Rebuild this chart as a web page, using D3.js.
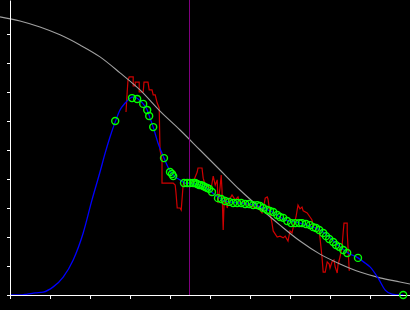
<!DOCTYPE html>
<html>
<head>
<meta charset="utf-8">
<script src="https://cdn.jsdelivr.net/npm/d3@7"></script>
<style>
  html, body { margin: 0; padding: 0; background: #000; }
  svg { display: block; }
</style>
</head>
<body>
<div id="chart"></div>
<script>
// Values (x and y in axis units)
var grayX = [-0.25, 0.25, 0.75, 1.25, 1.75, 2.25, 2.75, 3.25, 3.75, 4.25, 4.75, 5.25, 5.75, 6.25, 6.75, 7.25, 7.75, 8.25, 8.75, 9.25, 9.75, 10.0];
var grayY = [9.59, 9.45, 9.24, 8.97, 8.62, 8.21, 7.66, 7.07, 6.34, 5.69, 5.00, 4.31, 3.62, 3.00, 2.41, 1.86, 1.41, 1.07, 0.79, 0.59, 0.45, 0.38];

var blueX = [0, 0.25, 0.43, 0.63, 0.83, 1.08, 1.33, 1.58, 1.83, 2.05, 2.25, 2.38, 2.5, 2.63, 2.75, 2.88, 3.0, 3.1, 3.2, 3.33, 3.43, 3.5, 3.58, 3.7, 3.85, 4.0, 4.13, 4.25, 4.38, 4.63, 4.88, 5.13, 5.38, 5.75, 6.13, 6.5, 6.88, 7.25, 7.58, 7.75, 8.0, 8.25, 8.45, 8.7, 8.88, 9.0, 9.2, 9.38, 9.55, 9.75, 9.83];
var blueY = [0, 0, 0.03, 0.07, 0.10, 0.28, 0.62, 1.21, 2.14, 3.28, 4.24, 4.90, 5.45, 5.97, 6.38, 6.62, 6.79, 6.83, 6.76, 6.59, 6.38, 6.10, 5.79, 5.24, 4.72, 4.28, 4.07, 3.97, 3.86, 3.83, 3.72, 3.45, 3.24, 3.17, 3.10, 2.90, 2.59, 2.48, 2.34, 2.24, 1.97, 1.66, 1.45, 1.28, 1.10, 0.97, 0.59, 0.17, 0.03, 0, 0];

var redX = [2.9, 2.93, 2.95, 2.98, 3.08, 3.08, 3.13, 3.13, 3.23, 3.23, 3.33, 3.35, 3.45, 3.48, 3.55, 3.58, 3.63, 3.68, 3.73, 3.75, 3.8, 3.8, 4.08, 4.13, 4.15, 4.18, 4.25, 4.28, 4.3, 4.33, 4.45, 4.58, 4.63, 4.68, 4.7, 4.8, 4.83, 4.88, 4.95, 5.03, 5.08, 5.13, 5.18, 5.2, 5.25, 5.28, 5.3, 5.33, 5.35, 5.38, 5.43, 5.48, 5.55, 5.63, 5.7, 5.75, 5.85, 5.95, 6.08, 6.2, 6.3, 6.35, 6.38, 6.43, 6.45, 6.5, 6.55, 6.58, 6.68, 6.75, 6.83, 6.88, 6.95, 7.0, 7.05, 7.1, 7.15, 7.2, 7.25, 7.3, 7.33, 7.43, 7.5, 7.55, 7.58, 7.68, 7.73, 7.75, 7.8, 7.83, 7.88, 7.93, 7.98, 8.0, 8.05, 8.1, 8.13, 8.18, 8.2, 8.25, 8.3, 8.33, 8.35, 8.43, 8.43, 8.45, 8.48, 8.5];
var redY = [6.31, 7.00, 7.41, 7.52, 7.52, 7.21, 7.21, 7.34, 7.34, 7.00, 7.00, 7.34, 7.34, 7.07, 7.07, 6.90, 6.90, 6.62, 6.45, 5.00, 4.66, 3.86, 3.86, 3.79, 3.52, 3.00, 3.00, 2.93, 3.28, 3.83, 3.86, 3.90, 4.07, 4.24, 4.38, 4.38, 4.03, 3.79, 3.72, 3.69, 4.10, 3.79, 3.97, 3.17, 3.69, 4.14, 3.62, 2.24, 3.10, 3.38, 3.00, 3.28, 3.45, 3.28, 3.38, 3.17, 3.21, 3.10, 3.03, 3.03, 2.83, 3.10, 3.34, 3.38, 3.31, 2.83, 2.48, 2.21, 2.00, 2.03, 1.97, 2.03, 1.86, 2.21, 2.14, 2.45, 2.69, 3.10, 2.97, 3.03, 2.90, 2.83, 2.69, 2.59, 2.34, 2.31, 2.21, 1.97, 1.31, 0.79, 0.79, 1.14, 1.07, 0.93, 1.14, 1.21, 0.97, 0.76, 1.03, 1.31, 1.66, 2.17, 2.48, 2.48, 2.17, 1.66, 0.86, 0.86];

var pointX = [2.63, 3.05, 3.18, 3.33, 3.43, 3.48, 3.58, 3.85, 4.0, 4.05, 4.08, 4.35, 4.43, 4.5, 4.58, 4.63, 4.68, 4.73, 4.78, 4.83, 4.88, 4.93, 4.98, 5.05, 5.2, 5.28, 5.38, 5.48, 5.58, 5.68, 5.78, 5.88, 5.98, 6.08, 6.18, 6.25, 6.33, 6.43, 6.5, 6.58, 6.68, 6.75, 6.83, 6.93, 7.03, 7.13, 7.23, 7.3, 7.4, 7.5, 7.58, 7.65, 7.73, 7.83, 7.9, 7.98, 8.08, 8.15, 8.23, 8.33, 8.43, 8.7, 9.83];
var pointY = [6.00, 6.79, 6.76, 6.59, 6.38, 6.17, 5.79, 4.72, 4.24, 4.17, 4.10, 3.86, 3.86, 3.86, 3.86, 3.86, 3.83, 3.79, 3.79, 3.76, 3.72, 3.69, 3.66, 3.55, 3.34, 3.31, 3.24, 3.21, 3.17, 3.17, 3.17, 3.14, 3.14, 3.10, 3.10, 3.07, 3.00, 2.93, 2.90, 2.86, 2.76, 2.69, 2.66, 2.55, 2.48, 2.48, 2.48, 2.48, 2.45, 2.41, 2.34, 2.31, 2.24, 2.14, 2.03, 1.93, 1.83, 1.72, 1.66, 1.55, 1.45, 1.28, 0];

var markerX = 4.475;
var xTicks = [0, 1, 2, 3, 4, 5, 6, 7, 8, 9];
var yTicks = [0, 1, 2, 3, 4, 5, 6, 7, 8, 9];

var width = 410, height = 310;

var x = d3.scaleLinear().domain([0, 10]).range([10, 410]);
var y = d3.scaleLinear().domain([0, 295 / 29]).range([295, 0]);

var svg = d3.select("#chart").append("svg")
    .attr("width", width)
    .attr("height", height)
    .style("background", "#000");

function pairs(xs, ys) {
    return xs.map(function(v, i) { return [v, ys[i]]; });
}

var line = d3.line()
    .x(function(d) { return x(d[0]); })
    .y(function(d) { return y(d[1]); });

// noisy red series
svg.append("path")
    .attr("d", line(pairs(redX, redY)))
    .attr("fill", "none")
    .attr("stroke", "#d00000")
    .attr("stroke-width", 1.2);

// smooth gray reference curve
svg.append("path")
    .attr("d", line.curve(d3.curveMonotoneX)(pairs(grayX, grayY)))
    .attr("fill", "none")
    .attr("stroke", "#a0a0a0")
    .attr("stroke-width", 1.1);

// blue density curve
svg.append("path")
    .attr("d", line.curve(d3.curveMonotoneX)(pairs(blueX, blueY)))
    .attr("fill", "none")
    .attr("stroke", "#0000ff")
    .attr("stroke-width", 1.3);

// vertical marker
svg.append("line")
    .attr("x1", Math.round(x(markerX)) + 0.5)
    .attr("x2", Math.round(x(markerX)) + 0.5)
    .attr("y1", 0)
    .attr("y2", y(0))
    .attr("stroke", "#800080")
    .attr("stroke-width", 1);

// axes
svg.append("g")
    .attr("transform", "translate(" + x(0) + ",0)")
    .call(d3.axisLeft(y).tickValues(yTicks).tickSize(3).tickSizeOuter(0).tickFormat(""));

svg.append("g")
    .attr("transform", "translate(0," + y(0) + ")")
    .call(d3.axisBottom(x).tickValues(xTicks).tickSize(4).tickSizeOuter(0).tickFormat(""));

svg.selectAll(".domain, .tick line").attr("stroke", "#fff");

// green sample points
svg.append("g").selectAll("circle")
    .data(pairs(pointX, pointY))
    .enter()
    .append("circle")
    .attr("cx", function(d) { return x(d[0]); })
    .attr("cy", function(d) { return y(d[1]); })
    .attr("r", 3.5)
    .attr("fill", "none")
    .attr("stroke", "#00ff00")
    .attr("stroke-width", 1.4);
</script>
</body>
</html>
